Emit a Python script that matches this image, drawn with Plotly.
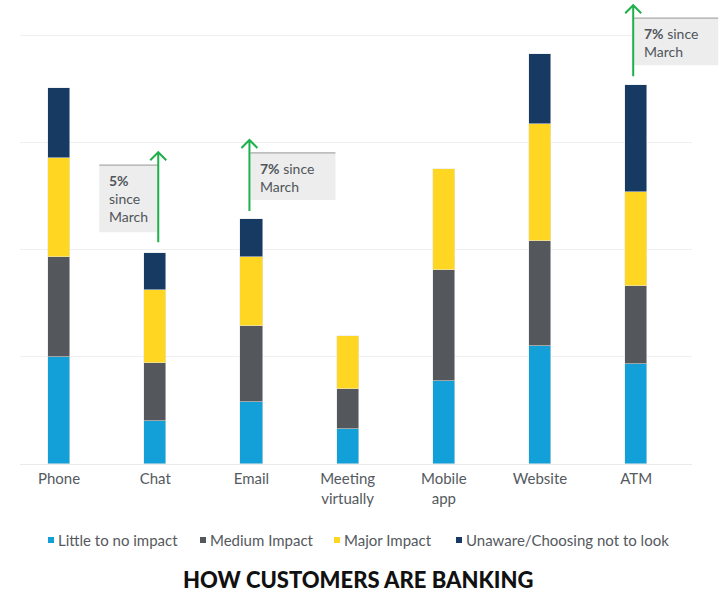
import plotly.graph_objects as go

# ---------------- data ----------------
categories = ["Phone", "Chat", "Email", "Meeting<br>virtually", "Mobile<br>app", "Website", "ATM"]
series_names = ["Little to no impact", "Medium Impact", "Major Impact", "Unaware/Choosing not to look"]
little_impact = [10.0, 4.0, 5.8, 3.3, 7.8, 11.0, 9.3]
medium_impact = [9.35, 5.4, 7.1, 3.7, 10.3, 9.8, 7.3]
major_impact = [9.25, 6.9, 6.4, 5.0, 9.5, 11.0, 8.8]
unaware = [6.5, 3.4, 3.6, None, None, 6.5, 10.0]
change_categories = ["Chat", "Email", "ATM"]
change_labels = ["<b>5%</b><br>since<br>March", "<b>7%</b> since<br>March", "<b>7%</b> since<br>March"]
title_text = "HOW CUSTOMERS ARE BANKING"

# ---------------- style ----------------
colors = ["#139FD8", "#54575B", "#FFD621", "#173A62"]
FONT = "Lato"
TEXT_COLOR = "#4f545a"
GREEN = "#1DB04B"

W, H = 725, 592
ML, MR, MT, MB = 20, 33, 0, 128
plot_w = W - ML - MR
plot_h = H - MT - MB
X_RANGE = [-0.406, 6.58]
Y_MAX = 43.36
PX_X = (X_RANGE[1] - X_RANGE[0]) / plot_w   # data units per pixel
PX_Y = Y_MAX / plot_h


def to_paper_x(x):
    return (x - X_RANGE[0]) / (X_RANGE[1] - X_RANGE[0])


def to_paper_y(y):
    return y / Y_MAX


def px_paper_x(px):
    return (px - ML) / plot_w


def px_paper_y(py):
    return (plot_h - (py - MT)) / plot_h


fig = go.Figure()
for name, vals, col in zip(series_names, [little_impact, medium_impact, major_impact, unaware], colors):
    fig.add_trace(go.Bar(
        x=categories, y=vals, name=name, showlegend=False,
        marker=dict(color=col, line=dict(color="rgba(230,230,230,0.9)", width=0.6)),
        width=0.23,
    ))

# totals for annotation anchoring
totals = []
for i in range(len(categories)):
    s = 0
    for arr in [little_impact, medium_impact, major_impact, unaware]:
        if arr[i] is not None:
            s += arr[i]
    totals.append(s)

plain_names = [c.replace("<br>", " ") for c in categories]

# per-annotation layout: (arrow dx px, gap px, arrow length px, box side, box w px, box h px)
ann_layout = [
    (3, 11, 90, "left", 59, 67),
    (-2, 8, 71, "right", 85, 47),
    (-3, 9, 71, "right", 84, 47),
]

shapes = []
annotations = []
for cat, label, (dx, gap, ln, side, bw, bh) in zip(change_categories, change_labels, ann_layout):
    ci = plain_names.index(cat)
    ax = ci + dx * PX_X
    y0 = totals[ci] + gap * PX_Y
    y1 = y0 + ln * PX_Y
    btop = y1 - 13 * PX_Y
    bbot = btop - bh * PX_Y
    if side == "left":
        bx1 = ax
        bx0 = ax - bw * PX_X
    else:
        bx0 = ax + 1 * PX_X
        bx1 = bx0 + bw * PX_X
    shapes.append(dict(type="rect", xref="paper", yref="paper",
                       x0=to_paper_x(bx0), x1=to_paper_x(bx1),
                       y0=to_paper_y(bbot), y1=to_paper_y(btop),
                       fillcolor="#EDEDED", line=dict(width=0), layer="below"))
    shapes.append(dict(type="line", xref="paper", yref="paper",
                       x0=to_paper_x(bx0), x1=to_paper_x(bx1),
                       y0=to_paper_y(btop), y1=to_paper_y(btop),
                       line=dict(color="#A8A8A8", width=1.2), layer="below"))
    px0, py0, py1 = to_paper_x(ax), to_paper_y(y0), to_paper_y(y1)
    hx = to_paper_x(ax + 8 * PX_X) - px0
    hy = to_paper_y(8 * PX_Y)
    path = (f"M{px0},{py0} L{px0},{py1} "
            f"M{px0 - hx},{py1 - hy} L{px0},{py1} L{px0 + hx},{py1 - hy}")
    shapes.append(dict(type="path", xref="paper", yref="paper", path=path,
                       line=dict(color=GREEN, width=2)))
    annotations.append(dict(
        x=bx0 + 9 * PX_X, y=btop - 6 * PX_Y, xref="x", yref="y",
        text=label, showarrow=False, xanchor="left", yanchor="top", align="left",
        font=dict(family=FONT, size=14, color="#50555b"), borderpad=0,
    ))

# custom legend (small square markers, tight spacing)
legend_left_px = [48, 200, 334, 456]
legend_y_px = 540
for name, col, lx in zip(series_names, colors, legend_left_px):
    shapes.append(dict(type="rect", xref="paper", yref="paper",
                       x0=px_paper_x(lx), x1=px_paper_x(lx + 6),
                       y0=px_paper_y(legend_y_px + 3), y1=px_paper_y(legend_y_px - 3),
                       fillcolor=col, line=dict(width=0)))
    annotations.append(dict(
        x=px_paper_x(lx + 8), y=px_paper_y(legend_y_px), xref="paper", yref="paper",
        text=name, showarrow=False, xanchor="left", yanchor="middle",
        font=dict(family=FONT, size=15, color="#55595e"),
    ))

annotations.append(dict(
    x=px_paper_x(358), y=px_paper_y(579), xref="paper", yref="paper",
    text=title_text, showarrow=False, xanchor="center", yanchor="middle",
    font=dict(family=FONT, size=22, color="#111111", weight=900), borderpad=0,
))

fig.update_layout(
    width=W, height=H,
    margin=dict(l=ML, r=MR, t=MT, b=MB),
    barmode="stack",
    paper_bgcolor="white", plot_bgcolor="white",
    font=dict(family=FONT, size=14, color=TEXT_COLOR),
    xaxis=dict(range=X_RANGE, showgrid=False, showline=False, ticks="",
               ticklabelstandoff=4,
               tickfont=dict(family=FONT, size=15, color="#555a60")),
    yaxis=dict(range=[0, Y_MAX], tickvals=[0, 10, 20, 30, 40], showticklabels=False,
               showgrid=True, gridcolor="#EFEFEF", gridwidth=1,
               zeroline=True, zerolinecolor="#EAEAEA", zerolinewidth=1, showline=False),
    showlegend=False,
    shapes=shapes,
    annotations=annotations,
    bargap=0,
)

fig.write_html("out.html")
